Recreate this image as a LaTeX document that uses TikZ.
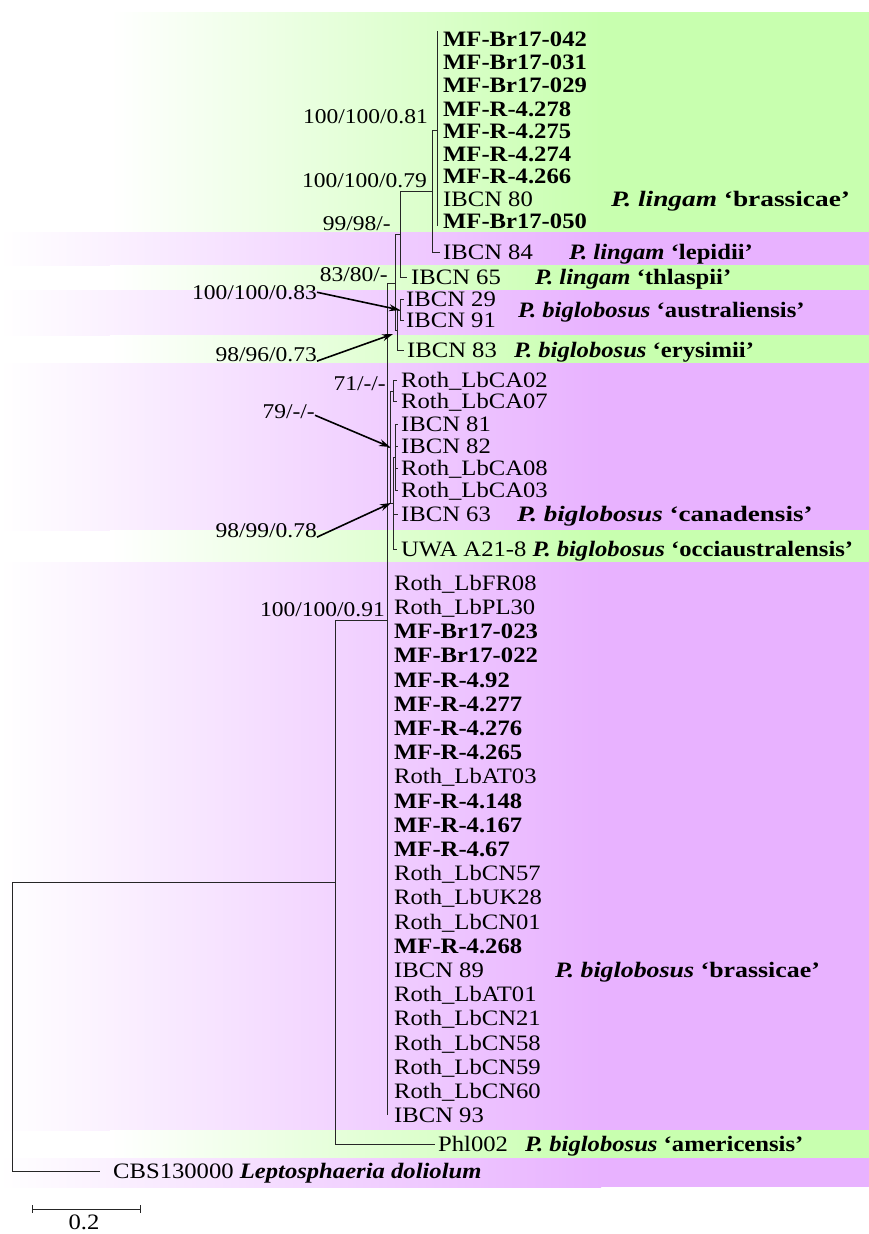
\documentclass[tikz,border=0pt]{standalone}
\usepackage{fontspec}
\setmainfont{Liberation Serif}[FakeStretch=1.12]
\usetikzlibrary{arrows.meta}
\definecolor{bandG}{RGB}{200,255,175}
\definecolor{bandM}{RGB}{232,178,255}
\newcommand\bandG[2]{\fill[bandG] (600,#1) rectangle (869,#2); \shade[left color=white,right color=bandG] (110,#1) rectangle (601,#2);}
\newcommand\bandM[2]{\fill[bandM] (600,#1) rectangle (869,#2); \shade[left color=white,right color=bandM] (0,#1) rectangle (601,#2);}
% leaf: name, parent, xtip, y, xtext, text
\newcommand\lf[6]{\coordinate (#1) at (#3,#4); \node[tx] (#1t) at (#5,#4+7.3) {#6}; \draw[br] (#2) |- (#1);}
\begin{document}
\begin{tikzpicture}[x=1pt,y=-1pt,
  br/.style={line width=0.8pt, black!85},
  tx/.style={inner sep=0pt, anchor=base west, font=\fontsize{22}{26}\selectfont},
  sup/.style={inner sep=0pt, anchor=base east, font=\fontsize{21}{25}\selectfont},
  arr/.style={line width=1.6pt, -{Stealth[length=11pt,width=7pt]}},
]
\useasboundingbox (0,0) rectangle (869,1234);
% background bands
\bandG{12}{232}\bandM{232}{265}\bandG{265}{290}\bandM{290}{335}\bandG{335}{363}
\bandM{363}{530}\bandG{530}{562}\bandM{562}{1130}\bandG{1130}{1158}\bandM{1158}{1187}
% internal nodes
\coordinate (R) at (12,1027);
\coordinate (I) at (335,882);
\coordinate (A) at (387.5,620);
\coordinate (n83) at (395,283);
\coordinate (n99) at (400,234);
\coordinate (n079) at (432,191);
\coordinate (n081) at (437,130);
\coordinate (n9896) at (397,330);
\coordinate (n10083) at (400,310);
\coordinate (n79) at (390,447);
\coordinate (n71) at (393,391);
\coordinate (n9899) at (393,503);
\coordinate (nin) at (395,457);
% internal branches
\draw[br] (R) |- (I);
\draw[br] (I) |- (A);
\draw[br] (A) |- (n83);
\draw[br] (n83) |- (n99);
\draw[br] (n99) |- (n079);
\draw[br] (n079) |- (n081);
\draw[br] (n83) |- (n9896);
\draw[br] (n9896) |- (n10083);
\draw[br] (A) |- (n79);
\draw[br] (n79) |- (n71);
\draw[br] (n79) |- (n9899);
\draw[br] (n9899) |- (nin);
% top cluster
\lf{t1}{n081}{437}{39}{443}{\textbf{MF-Br17-042}}
\lf{t2}{n081}{437}{62}{443}{\textbf{MF-Br17-031}}
\lf{t3}{n081}{437}{85}{443}{\textbf{MF-Br17-029}}
\lf{t4}{n081}{437}{109}{443}{\textbf{MF-R-4.278}}
\lf{t5}{n081}{437}{131}{443}{\textbf{MF-R-4.275}}
\lf{t6}{n081}{437}{154}{443}{\textbf{MF-R-4.274}}
\lf{t7}{n081}{437}{176}{443}{\textbf{MF-R-4.266}}
\lf{t8}{n081}{437}{199}{443}{IBCN 80}
\lf{t9}{n081}{437}{221}{443}{\textbf{MF-Br17-050}}
\draw[br] ([yshift=8pt]t1) -- ([yshift=-5pt]t9);
\lf{i84}{n079}{440}{252}{443}{IBCN 84}
\lf{i65}{n99}{407}{277}{411}{IBCN 65}
\lf{i29}{n10083}{404}{299}{406}{IBCN 29}
\lf{i91}{n10083}{404}{320}{406}{IBCN 91}
\lf{i83}{n9896}{404}{350}{407}{IBCN 83}
% canadensis
\lf{c1}{n71}{397}{380}{401}{Roth\_LbCA02}
\lf{c2}{n71}{397}{401}{401}{Roth\_LbCA07}
\lf{c3}{nin}{398}{424}{401}{IBCN 81}
\lf{c4}{nin}{398}{446}{401}{IBCN 82}
\lf{c5}{nin}{398}{468}{401}{Roth\_LbCA08}
\lf{c6}{nin}{398}{490}{401}{Roth\_LbCA03}
\lf{c7}{n9899}{398}{514}{401}{IBCN 63}
\lf{c8}{n9899}{397}{549}{401}{UWA A21-8 \textbf{\textit{P. biglobosus}} \textbf{‘occiaustralensis’}}
% brassicae cluster
\lf{b0}{A}{387.5}{583}{394}{Roth\_LbFR08}
\lf{b1}{A}{387.5}{607.2}{394}{Roth\_LbPL30}
\lf{b2}{A}{387.5}{631.4}{394}{\textbf{MF-Br17-023}}
\lf{b3}{A}{387.5}{655.6}{394}{\textbf{MF-Br17-022}}
\lf{b4}{A}{387.5}{679.8}{394}{\textbf{MF-R-4.92}}
\lf{b5}{A}{387.5}{704}{394}{\textbf{MF-R-4.277}}
\lf{b6}{A}{387.5}{728.2}{394}{\textbf{MF-R-4.276}}
\lf{b7}{A}{387.5}{752.4}{394}{\textbf{MF-R-4.265}}
\lf{b8}{A}{387.5}{776.6}{394}{Roth\_LbAT03}
\lf{b9}{A}{387.5}{800.8}{394}{\textbf{MF-R-4.148}}
\lf{b10}{A}{387.5}{825}{394}{\textbf{MF-R-4.167}}
\lf{b11}{A}{387.5}{849.2}{394}{\textbf{MF-R-4.67}}
\lf{b12}{A}{387.5}{873.4}{394}{Roth\_LbCN57}
\lf{b13}{A}{387.5}{897.6}{394}{Roth\_LbUK28}
\lf{b14}{A}{387.5}{921.8}{394}{Roth\_LbCN01}
\lf{b15}{A}{387.5}{946}{394}{\textbf{MF-R-4.268}}
\lf{b16}{A}{387.5}{970.2}{394}{IBCN 89}
\lf{b17}{A}{387.5}{994.4}{394}{Roth\_LbAT01}
\lf{b18}{A}{387.5}{1018.6}{394}{Roth\_LbCN21}
\lf{b19}{A}{387.5}{1042.8}{394}{Roth\_LbCN58}
\lf{b20}{A}{387.5}{1067}{394}{Roth\_LbCN59}
\lf{b21}{A}{387.5}{1091.2}{394}{Roth\_LbCN60}
\lf{b22}{A}{387.5}{1115.4}{394}{IBCN 93}
\lf{phl}{I}{435}{1144}{438}{Phl002}
\lf{cbs}{R}{100}{1171}{113}{CBS130000 \textbf{\textit{Leptosphaeria doliolum}}}
% species labels
\node[tx] (sp1) at (611,199+7.3) {\scalebox{1.11}[1]{\textbf{\textit{P. lingam}} \textbf{‘brassicae’}}};
\node[tx] (sp2) at (569,252+7.3) {\textbf{\textit{P. lingam}} \textbf{‘lepidii’}};
\node[tx] (sp3) at (535,277+7.3) {\textbf{\textit{P. lingam}} \textbf{‘thlaspii’}};
\node[tx] (sp4) at (518,310+7.3) {\textbf{\textit{P. biglobosus}} \textbf{‘australiensis’}};
\node[tx] (sp5) at (514,350+7.3) {\textbf{\textit{P. biglobosus}} \textbf{‘erysimii’}};
\node[tx] (sp6) at (517,514+7.3) {\scalebox{1.1}[1]{\textbf{\textit{P. biglobosus}} \textbf{‘canadensis’}}};
\node[tx] (sp7) at (555,970.2+7.3) {\scalebox{1.05}[1]{\textbf{\textit{P. biglobosus}} \textbf{‘brassicae’}}};
\node[tx] (sp8) at (525,1144+7.3) {\textbf{\textit{P. biglobosus}} \textbf{‘americensis’}};
% support values
\node[sup] (s081) at (428,116+7.1) {100/100/0.81};
\node[sup] (s079) at (427,180+7.1) {100/100/0.79};
\node[sup] (s99) at (391,223+7.1) {99/98/-};
\node[sup] (s83) at (388,274+7.1) {83/80/-};
\node[sup] (s10083) at (317,292+7.1) {100/100/0.83};
\node[sup] (s9896) at (317,354+7.1) {98/96/0.73};
\node[sup] (s71) at (386,383+7.1) {71/-/-};
\node[sup] (s79) at (315,411+7.1) {79/-/-};
\node[sup] (s9899) at (317,530+7.1) {98/99/0.78};
\node[sup] (s091) at (385,609+7.1) {100/100/0.91};
\draw[arr] (s10083.east) -- (n10083);
\draw[arr] (s9896.base east) -- ([shift={(-4,4)}]n9896);
\draw[arr] ([yshift=-4pt]s79.east) -- (n79);
\draw[arr] (s9899.base east) -- ([xshift=-2pt]n9899);
% scale bar
\coordinate (sb1) at (32,1209);
\coordinate (sb2) at (140,1209);
\draw[br] (sb1) -- (sb2);
\draw[br] ([yshift=4pt]sb1) -- ([yshift=-4pt]sb1);
\draw[br] ([yshift=4pt]sb2) -- ([yshift=-4pt]sb2);
\node[inner sep=0pt, anchor=base, font=\fontsize{22}{26}\selectfont] (sbl) at (84,1229) {0.2};
\end{tikzpicture}
\end{document}
